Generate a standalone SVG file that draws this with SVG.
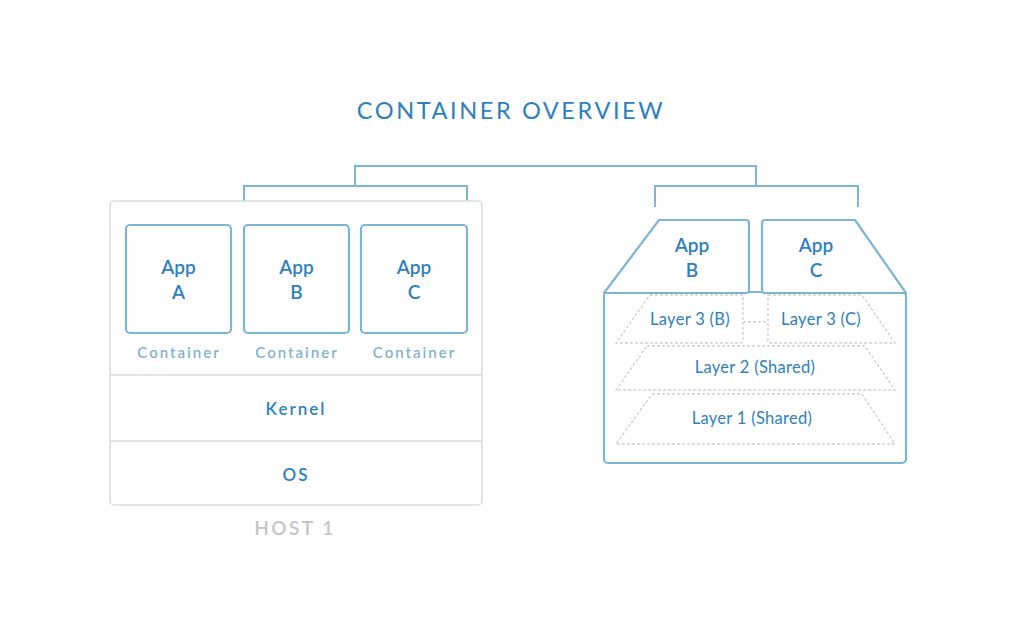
<svg xmlns="http://www.w3.org/2000/svg" width="1024" height="640" viewBox="0 0 1024 640">
<style>
.t{font-family:Lato,"Open Sans",sans-serif;fill:#2f7fbd;text-anchor:middle}
.app{font-size:19px;font-weight:600}
.box{fill:#fff;stroke:#7cb6d2;stroke-width:2.2}
.conn{fill:none;stroke:#7cb6d2;stroke-width:2}
.dash{fill:none;stroke:#cfcfcf;stroke-width:1.3;stroke-dasharray:3 2}
.lbl{font-size:15px;font-weight:600;letter-spacing:2px;fill:#7fb3d0}
.lay{font-size:16.5px;letter-spacing:0.3px}
</style>
<rect width="1024" height="640" fill="#fff"/>
<text class="t" x="511" y="119" font-size="23.5" letter-spacing="2.6">CONTAINER OVERVIEW</text>
<g id="connectors">
<path class="conn" d="M244 216V186H467V216"/>
<path class="conn" d="M355 186V166H756V186"/>
<path class="conn" d="M655 207V186H858V207"/>
</g>
<g id="host1">
<rect x="110" y="201" width="372" height="304" rx="4" fill="#fff" stroke="#dcdcdc" stroke-width="1.5"/>
<line x1="110" y1="375" x2="482" y2="375" stroke="#dcdcdc" stroke-width="1.5"/>
<line x1="110" y1="441" x2="482" y2="441" stroke="#dcdcdc" stroke-width="1.5"/>
<text class="t" x="295" y="535" font-size="19" font-weight="600" letter-spacing="2.5" style="fill:#c4c4c4">HOST 1</text>
</g>
<g id="appA">
<rect class="box" x="126" y="225" width="105" height="108" rx="4"/>
<text class="t app" x="178.5" y="274">App</text><text class="t app" x="178.5" y="299">A</text>
<text class="t lbl" x="179" y="358">Container</text>
</g>
<g id="appB">
<rect class="box" x="244" y="225" width="105" height="108" rx="4"/>
<text class="t app" x="296.5" y="274">App</text><text class="t app" x="296.5" y="299">B</text>
<text class="t lbl" x="297" y="358">Container</text>
</g>
<g id="appC">
<rect class="box" x="361" y="225" width="106" height="108" rx="4"/>
<text class="t app" x="414" y="274">App</text><text class="t app" x="414" y="299">C</text>
<text class="t lbl" x="414.5" y="358">Container</text>
</g>
<g id="kernel"><text class="t" x="296" y="415" font-size="17" font-weight="600" letter-spacing="2">Kernel</text></g>
<g id="os"><text class="t" x="296" y="481" font-size="17" font-weight="600" letter-spacing="2">OS</text></g>
<g id="image">
<rect class="box" x="604" y="292" width="302" height="171" rx="4"/>
</g>
<g id="layer3b">
<path class="dash" d="M650 295H743V341Q743 343 741 343H616Z"/>
<text class="t lay" x="690" y="325">Layer 3 (B)</text>
</g>
<g id="layer3c">
<path class="dash" d="M768 295H862L895 343H770Q768 343 768 341Z"/>
<text class="t lay" x="821" y="325">Layer 3 (C)</text>
</g>
<path class="dash" d="M743 322H768"/>
<g id="layer2">
<path class="dash" d="M647 346H865L895 390H616Z"/>
<text class="t lay" x="755" y="373">Layer 2 (Shared)</text>
</g>
<g id="layer1">
<path class="dash" d="M652 394H862L895 444H616Z"/>
<text class="t lay" x="752" y="424">Layer 1 (Shared)</text>
</g>
<g id="imgAppB">
<path class="box" stroke-linejoin="round" d="M659 220H746Q749 220 749 223V290Q749 293 746 293H604Z"/>
<text class="t app" x="692" y="252">App</text><text class="t app" x="692" y="277">B</text>
</g>
<g id="imgAppC">
<path class="box" stroke-linejoin="round" d="M765 220H855L906 293H765Q762 293 762 290V223Q762 220 765 220Z"/>
<text class="t app" x="816" y="252">App</text><text class="t app" x="816" y="277">C</text>
</g>
</svg>
